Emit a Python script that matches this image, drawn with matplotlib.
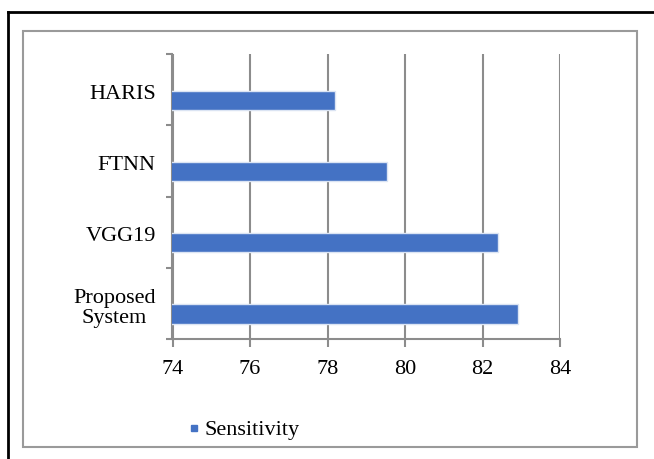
import numpy as np
import matplotlib
matplotlib.use("Agg")
import matplotlib.pyplot as plt
from matplotlib.lines import Line2D
from matplotlib.patches import Rectangle

# donnees
methods = ["HARIS", "FTNN", "VGG19", "Proposed\nSystem"]
sensitivity = [78.2, 79.53, 82.4, 82.92]
x_ticks = [74, 76, 78, 80, 82, 84]

W, H = 654, 459
bleu = '#4472C4'
gray = '#8c8c8c'
plt.rcParams['font.family'] = ['Liberation Serif', 'DejaVu Serif']
plt.rcParams['font.size'] = 16

fig = plt.figure(figsize=(W / 100, H / 100), dpi=100)
ax = fig.add_axes([172.5 / W, 1 - 339 / H, (560 - 172.5) / W, (339 - 54) / H])

pos = np.arange(len(methods))
ax.barh(pos + 0.15, sensitivity, height=0.27, color=bleu,
        edgecolor='#dbe4f3', linewidth=1, zorder=3)

ax.set_xlim(74, 84)
ax.set_xticks(x_ticks)
ax.set_xticklabels([str(t) for t in x_ticks])
ax.set_ylim(len(methods) - 0.5, -0.5)
ax.set_yticks(pos + 0.03)
ax.set_yticklabels(methods, ha='right', multialignment='center', linespacing=1.1)
ax.set_yticks(np.arange(-0.5, len(methods), 1.0), minor=True)

ax.xaxis.grid(True, color=gray, linewidth=1.5, zorder=0)
ax.set_axisbelow(True)
for s in ['top', 'right']:
    ax.spines[s].set_visible(False)
for s in ['left', 'bottom']:
    ax.spines[s].set_color(gray)
    ax.spines[s].set_linewidth(1.5)

ax.tick_params(axis='x', direction='out', length=6, width=1.5, color=gray, pad=9)
ax.tick_params(axis='y', which='major', length=0, pad=12)
ax.tick_params(axis='y', which='minor', direction='out', length=4.5, width=1.5, color=gray)

handle = Line2D([], [], marker='s', color=bleu, linestyle='', markersize=5)
fig.legend([handle], ["Sensitivity"], loc='center left',
           bbox_to_anchor=(187 / W, 1 - 430 / H), frameon=False,
           handlelength=0.6, handletextpad=0.2, borderpad=0, borderaxespad=0)

# cadres
fig.add_artist(Rectangle((23 / W, 1 - 447 / H), (637 - 23) / W, (447 - 31) / H,
                         transform=fig.transFigure, fill=False, edgecolor='#9a9a9a', linewidth=1.5))
fig.add_artist(Line2D([8 / W, 1], [1 - 11.5 / H, 1 - 11.5 / H], transform=fig.transFigure,
                      color='black', linewidth=2))
fig.add_artist(Line2D([8 / W, 8 / W], [0, 1 - 11.5 / H], transform=fig.transFigure,
                      color='black', linewidth=2))

fig.savefig("out.png", dpi=100)
